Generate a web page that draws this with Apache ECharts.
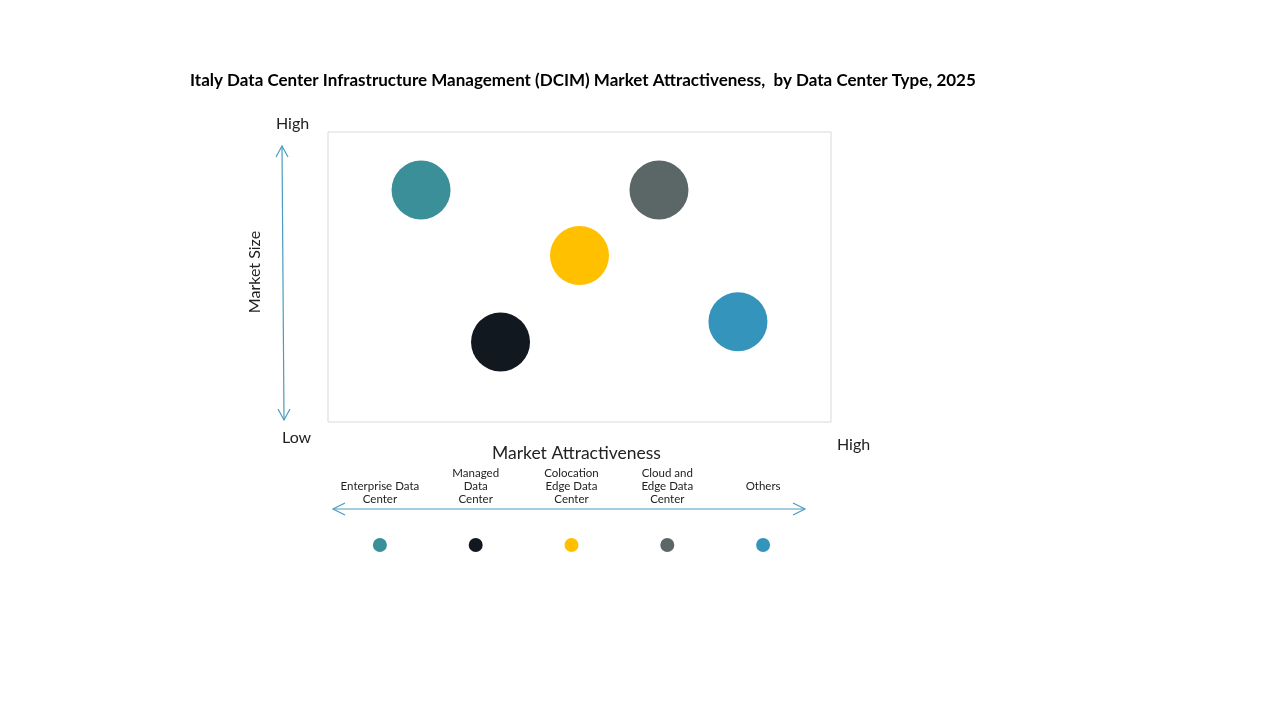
<!DOCTYPE html>
<html>
<head>
<meta charset="utf-8">
<script src="https://cdn.jsdelivr.net/npm/echarts@6/dist/echarts.min.js"></script>
<style>
html,body{margin:0;padding:0;background:#fff;}
#c{width:1280px;height:720px;}
</style>
</head>
<body>
<div id="c"></div>
<script>
var categories = ['Enterprise Data\nCenter', 'Managed\nData\nCenter', 'Colocation\nEdge Data\nCenter', 'Cloud and\nEdge Data\nCenter', 'Others'];
var colors = ['#3A8F98', '#111820', '#FFC000', '#5B6766', '#3594BC'];
var attractiveness = [18.5, 34.3, 50.0, 65.8, 81.5];
var marketSize = [80.0, 27.6, 57.4, 80.0, 34.6];
var titleText = 'Italy Data Center Infrastructure Management (DCIM) Market Attractiveness,  by Data Center Type, 2025';

var FONT = 'Lato, "Noto Sans", sans-serif';
var ARROW = '#4A9CC0';

var chart = echarts.init(document.getElementById('c'));

var bubbleData = categories.map(function (c, i) {
  return { name: c, value: [attractiveness[i], marketSize[i]], itemStyle: { color: colors[i], opacity: 1 } };
});
var legendData = categories.map(function (c, i) {
  return { name: c, value: [c, 0], itemStyle: { color: colors[i], opacity: 1 } };
});
var axisCats = categories.map(function (c) {
  var lines = c.split('\n').length;
  return { value: c, textStyle: { padding: [0, 0, lines === 1 ? 13 : 0, 0] } };
});

chart.setOption({
  animation: false,
  title: {
    text: titleText,
    left: 185, top: 67,
    textStyle: { fontFamily: FONT, fontWeight: 'bold', fontSize: 17, color: '#000' }
  },
  grid: [
    { left: 328, top: 132, width: 503, height: 290, show: true, borderColor: '#d9d9d9', borderWidth: 1, backgroundColor: '#fff' },
    { left: 332, top: 509, width: 479, height: 36 }
  ],
  xAxis: [
    { gridIndex: 0, type: 'value', min: 0, max: 100, show: false },
    { gridIndex: 1, type: 'category', data: axisCats, position: 'top',
      axisLine: { show: false }, axisTick: { show: false },
      axisLabel: { margin: 3, fontFamily: FONT, fontSize: 11.5, color: '#222', lineHeight: 13, interval: 0 } }
  ],
  yAxis: [
    { gridIndex: 0, type: 'value', min: 0, max: 100, show: false },
    { gridIndex: 1, type: 'value', min: 0, max: 1, show: false }
  ],
  series: [
    { type: 'scatter', xAxisIndex: 0, yAxisIndex: 0, symbolSize: 59, data: bubbleData, emphasis: { disabled: true } },
    { type: 'scatter', xAxisIndex: 1, yAxisIndex: 1, symbolSize: 14, data: legendData, emphasis: { disabled: true } }
  ],
  graphic: [
    { type: 'line', shape: { x1: 282, y1: 146, x2: 284, y2: 420 }, style: { stroke: ARROW, lineWidth: 1.2 } },
    { type: 'polyline', shape: { points: [[276, 157], [282, 146], [288, 157]] }, style: { stroke: ARROW, lineWidth: 1.2, fill: null } },
    { type: 'polyline', shape: { points: [[278, 409], [284, 420], [290, 409]] }, style: { stroke: ARROW, lineWidth: 1.2, fill: null } },
    { type: 'line', shape: { x1: 333, y1: 509, x2: 805, y2: 509 }, style: { stroke: ARROW, lineWidth: 1.2 } },
    { type: 'polyline', shape: { points: [[345, 503], [333, 509], [345, 515]] }, style: { stroke: ARROW, lineWidth: 1.2, fill: null } },
    { type: 'polyline', shape: { points: [[793, 503], [805, 509], [793, 515]] }, style: { stroke: ARROW, lineWidth: 1.2, fill: null } },
    { type: 'text', left: 276, top: 116, style: { text: 'High', font: '16px ' + FONT, fill: '#222' } },
    { type: 'text', left: 282, top: 430, style: { text: 'Low', font: '16px ' + FONT, fill: '#222' } },
    { type: 'text', left: 837, top: 437, style: { text: 'High', font: '16px ' + FONT, fill: '#222' } },
    { type: 'text', left: 492, top: 444, style: { text: 'Market Attractiveness', font: '17.5px ' + FONT, fill: '#222' } },
    { type: 'text', x: 255, y: 272, rotation: Math.PI / 2, style: { text: 'Market Size', font: '16px ' + FONT, fill: '#222', align: 'center', verticalAlign: 'middle' } }
  ]
});
</script>
</body>
</html>
